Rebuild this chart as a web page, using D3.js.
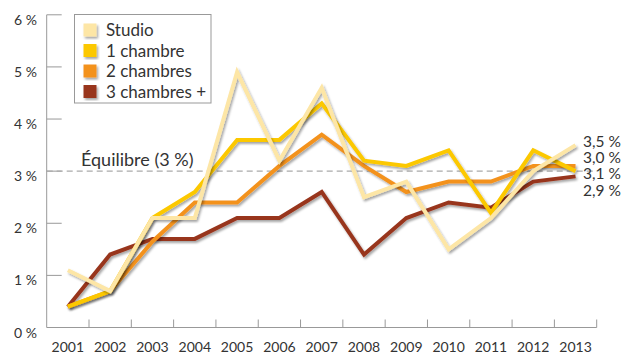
<!DOCTYPE html>
<html><head><meta charset="utf-8">
<script src="https://cdn.jsdelivr.net/npm/d3@7"></script>
<style>body{margin:0;background:#fff}svg{display:block}text{font-family:Lato,"Open Sans",sans-serif;fill:#333}</style>
</head><body><svg id="c" width="627" height="355"></svg>
<script>
const years = ["2001","2002","2003","2004","2005","2006","2007","2008","2009","2010","2011","2012","2013"];
const seriesNames = ["Studio","1 chambre","2 chambres","3 chambres +"];
const studio =    [1.1,0.7,2.1,2.1,4.9,3.2,4.6,2.5,2.8,1.5,2.1,3.0,3.5];
const chambre1 =  [0.4,0.7,2.1,2.6,3.6,3.6,4.3,3.2,3.1,3.4,2.2,3.4,3.0];
const chambres2 = [0.4,0.7,1.65,2.4,2.4,3.1,3.7,3.1,2.6,2.8,2.8,3.1,3.1];
const chambres3 = [0.4,1.4,1.7,1.7,2.1,2.1,2.6,1.4,2.1,2.4,2.3,2.8,2.9];
const colors = ["#fde6a6","#fcc800","#f3921f","#98361e"];
const yTicks = [0,1,2,3,4,5,6];
const endLabels = ["3,5 %","3,0 %","3,1 %","2,9 %"];
const equilibre = 3;

const svg = d3.select("#c");
const x = d3.scaleBand().domain(years).range([46.7,596.7]);
const y = d3.scaleLinear().domain([0,6]).range([327.5,14.8]);

const defs = svg.append("defs");
const f = defs.append("filter").attr("id","sh").attr("x","-10%").attr("y","-10%").attr("width","130%").attr("height","130%");
f.append("feDropShadow").attr("dx",1.5).attr("dy",2).attr("stdDeviation",1.3).attr("flood-color","#000").attr("flood-opacity",0.35);

// y axis
svg.append("line").attr("x1",46.7).attr("x2",46.7).attr("y1",y(6)).attr("y2",y(0)).attr("stroke","#999").attr("stroke-width",1);
svg.selectAll(".yt").data(yTicks.filter(d=>d>0)).enter().append("line")
  .attr("x1",46.7).attr("x2",61.7).attr("y1",d=>y(d)).attr("y2",d=>y(d)).attr("stroke","#999");
svg.selectAll(".yl").data(yTicks).enter().append("text")
  .attr("x",37).attr("y",d=>y(d)+10).attr("text-anchor","end").attr("font-size",14).text(d=>d+" %");

// x axis
svg.append("line").attr("x1",46.7).attr("x2",596.7).attr("y1",y(0)).attr("y2",y(0)).attr("stroke","#999");
svg.selectAll(".xt").data(years).enter().append("line")
  .attr("x1",d=>x(d)+x.bandwidth()).attr("x2",d=>x(d)+x.bandwidth())
  .attr("y1",y(0)).attr("y2",y(0)-8).attr("stroke","#999");
svg.selectAll(".xl").data(years).enter().append("text")
  .attr("x",d=>x(d)+x.bandwidth()/2).attr("y",352).attr("text-anchor","middle").attr("font-size",14).text(d=>d);

// equilibrium
svg.append("line").attr("x1",46.7).attr("x2",597).attr("y1",y(equilibre)).attr("y2",y(equilibre))
  .attr("stroke","#aaa").attr("stroke-width",1.3).attr("stroke-dasharray","6,4");
svg.append("text").attr("x",81).attr("y",y(equilibre)-5.5).attr("font-size",18).text("Équilibre (3 %)");

// lines
const data = [studio,chambre1,chambres2,chambres3];
const line = d3.line().x((d,i)=>x(years[i])+x.bandwidth()/2).y(d=>y(d));
const order = [3,2,1,0];
order.forEach(k=>{
  svg.append("path").datum(data[k]).attr("d",line).attr("fill","none")
    .attr("stroke",colors[k]).attr("stroke-width",4).attr("stroke-linejoin","miter").attr("filter","url(#sh)");
});

// end labels
const endY = [141.5,157,173,190];
endLabels.forEach((t,i)=>{
  svg.append("text").attr("x",583).attr("y",endY[i]+5.5).attr("font-size",15.5).text(t);
});

// legend
const lg = svg.append("g");
lg.append("rect").attr("x",74.5).attr("y",14.5).attr("width",136.5).attr("height",88.5).attr("fill","#fff").attr("stroke","#999");
seriesNames.forEach((n,i)=>{
  const cy = 30 + i*20.5;
  lg.append("rect").attr("x",83.5).attr("y",cy-6.5).attr("width",13).attr("height",13).attr("fill",colors[i]).attr("filter","url(#sh)");
  lg.append("text").attr("x",106).attr("y",cy+6).attr("font-size",17).text(n);
});
</script></body></html>
